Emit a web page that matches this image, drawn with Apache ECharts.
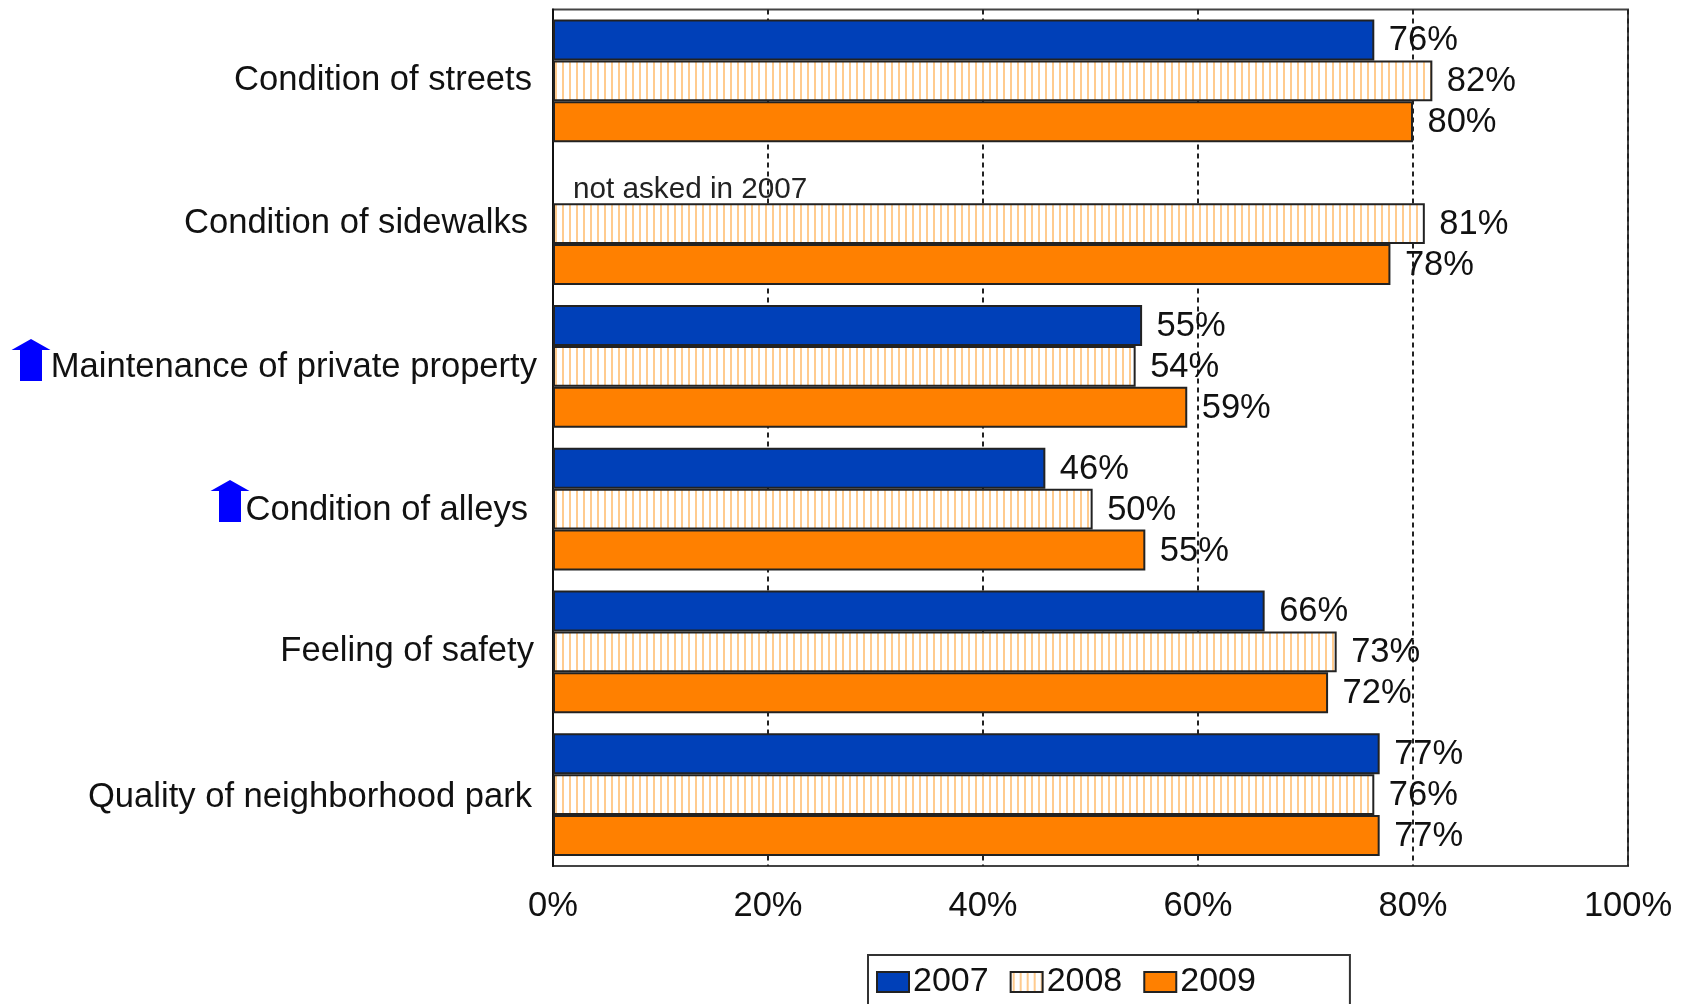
<!DOCTYPE html>
<html>
<head>
<meta charset="utf-8">
<style>html,body{margin:0;padding:0;background:#fff;overflow:hidden}#c{width:1682px;height:1004px}</style>
<script src="https://cdn.jsdelivr.net/npm/echarts@6/dist/echarts.min.js"></script>
</head>
<body>
<div id="c"></div>
<script>
const categories = ['Condition of streets','Condition of sidewalks','Maintenance of private property','Condition of alleys','Feeling of safety','Quality of neighborhood park'];
const values2007 = [76.4, null, 54.8, 45.8, 66.2, 76.9];
const values2008 = [81.8, 81.1, 54.2, 50.2, 72.9, 76.4];
const values2009 = [80.0, 77.9, 59.0, 55.1, 72.1, 76.9];
const seriesNames = ['2007','2008','2009'];
const xTicks = [0,20,40,60,80,100];
const notAskedText = 'not asked in 2007';
const labelRightPad = [5,9,0,9,3,5];
const labelTopPad = [0,0,2,2,0,6];
const FONT = '"Liberation Sans", Arial, sans-serif';
const INK = '#111';

const cv = document.createElement('canvas');
cv.width = 7; cv.height = 4;
const g = cv.getContext('2d');
g.fillStyle = '#fff'; g.fillRect(0,0,7,4);
g.fillStyle = '#FFCB8E'; g.fillRect(2,0,2,4);

const chart = echarts.init(document.getElementById('c'), null, {renderer:'canvas'});
const rich = {};
labelRightPad.forEach((p,i)=>{ rich['r'+i] = {padding:[labelTopPad[i],p,0,0], fontSize:34.6, fontFamily:FONT, color:INK}; });

function barSeries(name, data, color){
  return {
    name, type:'bar', data, barGap:0, barCategoryGap:'14%',
    itemStyle:{color, borderColor:'#222', borderWidth:2},
    label:{show:true, position:'right', distance:14.5, offset:[0,1], fontSize:34.5, fontFamily:FONT, color:INK,
      formatter:p=>Math.round(p.value)+'%'}
  };
}
const s2007 = barSeries(seriesNames[0], values2007.map(v=> v===null ? {
  value:0, itemStyle:{borderWidth:0},
  label:{position:'insideLeft', distance:0, offset:[20,7], fontSize:29.7, color:'#222', formatter:notAskedText}
} : v), '#0040B8');
const s2008 = barSeries(seriesNames[1], values2008, {image:cv, repeat:'repeat'});
const s2009 = barSeries(seriesNames[2], values2009, '#FF8000');

function arrow(cx, top){
  return {type:'polygon', z:10, silent:true,
    shape:{points:[[cx,top],[cx+19.5,top+11],[cx+11,top+11],[cx+11,top+42],[cx-11,top+42],[cx-11,top+11],[cx-19.5,top+11]]},
    style:{fill:'#0000FF'}};
}

chart.setOption({
  animation:false,
  backgroundColor:'#fff',
  grid:{left:553,top:9.5,width:1075,height:856.5,show:true,borderColor:'#444',borderWidth:2,backgroundColor:'transparent'},
  legend:{
    left:868, top:955, orient:'horizontal',
    data:seriesNames.map(name=>({name, icon:'rect'})),
    padding:[10,94,40,8],
    itemWidth:32, itemHeight:20, itemGap:21,
    borderColor:'#333', borderWidth:2,
    textStyle:{fontSize:34, fontFamily:FONT, color:INK, padding:[0,0,0,-1]}
  },
  xAxis:{
    type:'value', min:0, max:100, interval:20,
    axisLine:{show:false}, axisTick:{show:false},
    splitLine:{show:true, lineStyle:{color:'#222', type:[5,4], width:2}},
    axisLabel:{margin:23, fontSize:34.5, fontFamily:FONT, color:INK, formatter:v=>xTicks.includes(v)?v+'%':''}
  },
  yAxis:{
    type:'category', data:categories, inverse:true,
    axisLine:{show:true, lineStyle:{color:'#111', width:2}}, axisTick:{show:false},
    axisLabel:{margin:16, fontSize:34.6, fontFamily:FONT, color:INK,
      formatter:(v,i)=>'{r'+i+'|'+v+'}', rich}
  },
  series:[s2007,s2008,s2009],
  graphic:[arrow(31,339),arrow(230,480)]
});
</script>
</body>
</html>
